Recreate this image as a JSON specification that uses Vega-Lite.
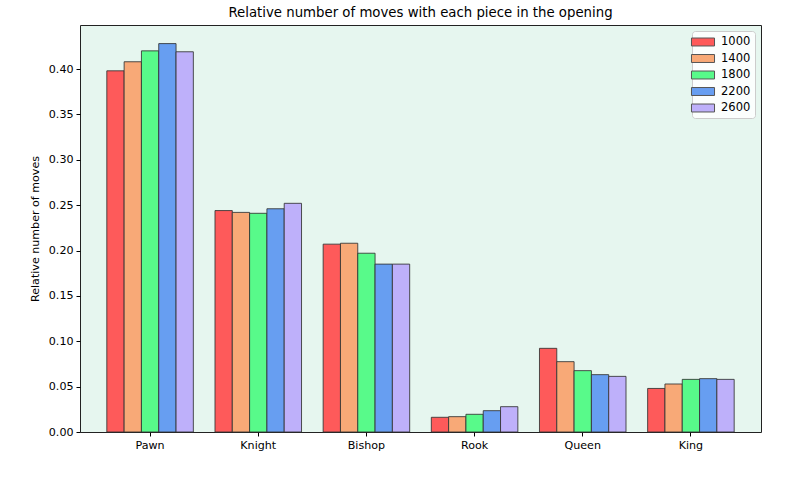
{
  "$schema": "https://vega.github.io/schema/vega-lite/v6.json",
  "width": 681,
  "height": 407,
  "autosize": {"type": "none"},
  "padding": {"left": 80, "top": 25, "right": 39, "bottom": 48},
  "background": "white",
  "title": {
    "text": "Relative number of moves with each piece in the opening",
    "font": "DejaVu Sans",
    "fontSize": 13.3,
    "fontWeight": "normal",
    "color": "black",
    "offset": 6
  },
  "config": {
    "font": "DejaVu Sans",
    "view": {"fill": "#e6f6ef", "stroke": "#222", "strokeWidth": 1}
  },
  "data": {
    "values": [
      {"piece": "Pawn", "elo": "1000", "value": 0.398},
      {"piece": "Pawn", "elo": "1400", "value": 0.408},
      {"piece": "Pawn", "elo": "1800", "value": 0.420},
      {"piece": "Pawn", "elo": "2200", "value": 0.428},
      {"piece": "Pawn", "elo": "2600", "value": 0.419},
      {"piece": "Knight", "elo": "1000", "value": 0.244},
      {"piece": "Knight", "elo": "1400", "value": 0.242},
      {"piece": "Knight", "elo": "1800", "value": 0.241},
      {"piece": "Knight", "elo": "2200", "value": 0.246},
      {"piece": "Knight", "elo": "2600", "value": 0.252},
      {"piece": "Bishop", "elo": "1000", "value": 0.207},
      {"piece": "Bishop", "elo": "1400", "value": 0.208},
      {"piece": "Bishop", "elo": "1800", "value": 0.197},
      {"piece": "Bishop", "elo": "2200", "value": 0.185},
      {"piece": "Bishop", "elo": "2600", "value": 0.185},
      {"piece": "Rook", "elo": "1000", "value": 0.0162},
      {"piece": "Rook", "elo": "1400", "value": 0.0169},
      {"piece": "Rook", "elo": "1800", "value": 0.0195},
      {"piece": "Rook", "elo": "2200", "value": 0.0235},
      {"piece": "Rook", "elo": "2600", "value": 0.0279},
      {"piece": "Queen", "elo": "1000", "value": 0.0922},
      {"piece": "Queen", "elo": "1400", "value": 0.0775},
      {"piece": "Queen", "elo": "1800", "value": 0.0676},
      {"piece": "Queen", "elo": "2200", "value": 0.0632},
      {"piece": "Queen", "elo": "2600", "value": 0.0613},
      {"piece": "King", "elo": "1000", "value": 0.048},
      {"piece": "King", "elo": "1400", "value": 0.0529},
      {"piece": "King", "elo": "1800", "value": 0.058},
      {"piece": "King", "elo": "2200", "value": 0.0588},
      {"piece": "King", "elo": "2600", "value": 0.058}
    ]
  },
  "mark": {"type": "bar", "stroke": "#333333", "strokeWidth": 1, "strokeOpacity": 0.85},
  "encoding": {
    "x": {
      "field": "piece",
      "type": "nominal",
      "sort": ["Pawn", "Knight", "Bishop", "Rook", "Queen", "King"],
      "scale": {"paddingInner": 0.2, "paddingOuter": 0.248},
      "axis": {
        "title": null,
        "labelAngle": 0,
        "labelFont": "DejaVu Sans",
        "labelFontSize": 11.1,
        "labelColor": "black",
        "labelPadding": 3,
        "tickColor": "black",
        "tickSize": 4,
        "domain": false,
        "grid": false
      }
    },
    "xOffset": {
      "field": "elo",
      "type": "nominal",
      "scale": {"paddingInner": 0, "paddingOuter": 0}
    },
    "y": {
      "field": "value",
      "type": "quantitative",
      "scale": {"domain": [0, 0.4485], "nice": false, "zero": true},
      "axis": {
        "title": "Relative number of moves",
        "titleFont": "DejaVu Sans",
        "titleFontSize": 11.1,
        "titleFontWeight": "normal",
        "titleColor": "black",
        "titlePadding": 8,
        "values": [0, 0.05, 0.1, 0.15, 0.2, 0.25, 0.3, 0.35, 0.4],
        "format": ".2f",
        "labelFont": "DejaVu Sans",
        "labelFontSize": 11.1,
        "labelColor": "black",
        "labelPadding": 3,
        "tickColor": "black",
        "tickSize": 4,
        "domain": false,
        "grid": false
      }
    },
    "color": {
      "field": "elo",
      "type": "nominal",
      "scale": {
        "domain": ["1000", "1400", "1800", "2200", "2600"],
        "range": ["#fe5a5a", "#f8a977", "#58fa8a", "#679ef1", "#beb0fa"]
      },
      "legend": {
        "title": null,
        "orient": "top-right",
        "offset": 6,
        "symbolType": "M-1.8,-0.62H1.8V0.62H-1.8Z",
        "symbolSize": 164,
        "symbolStrokeColor": "#555",
        "symbolStrokeWidth": 1,
        "symbolOpacity": 1,
        "labelFont": "DejaVu Sans",
        "labelFontSize": 11.5,
        "labelColor": "black",
        "labelOffset": 11,
        "rowPadding": 3.5,
        "padding": 4,
        "fillColor": "#fbfefd",
        "strokeColor": "#cccccc",
        "cornerRadius": 3
      }
    }
  }
}
